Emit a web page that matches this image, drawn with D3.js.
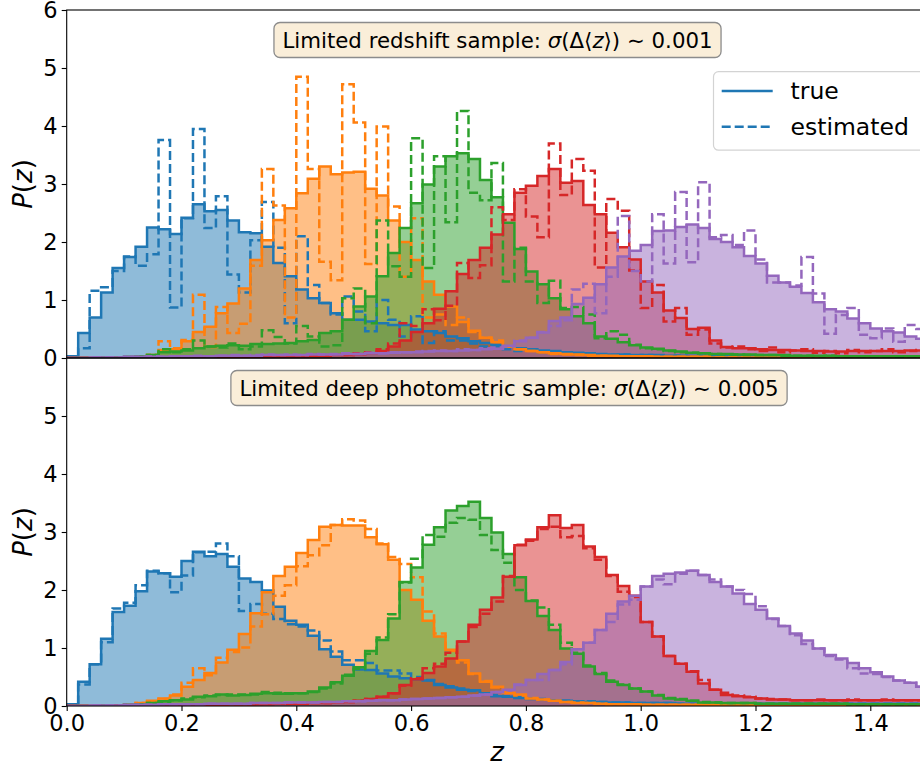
<!DOCTYPE html>
<html>
<head>
<meta charset="utf-8">
<script src="https://cdn.jsdelivr.net/npm/d3@7"></script>
<style>
  html, body { margin: 0; padding: 0; background: #fff; }
  svg { display: block; font-family: "DejaVu Sans", sans-serif; }
</style>
</head>
<body>
<svg id="chart" width="920" height="767"></svg>
<script>
// ---------------- data ----------------
const binWidth = 0.02;
const xTicks = [0.0, 0.2, 0.4, 0.6, 0.8, 1.0, 1.2, 1.4];
const xTickLabels = ["0.0", "0.2", "0.4", "0.6", "0.8", "1.0", "1.2", "1.4"];
const yTicksTop = [0, 1, 2, 3, 4, 5, 6];
const yTicksBottom = [0, 1, 2, 3, 4, 5];
const seriesColors = ["#1f77b4", "#ff7f0e", "#2ca02c", "#d62728", "#9467bd"];
const legendLabels = ["true", "estimated"];
const titleTop = ["Limited redshift sample: ", "σ", "(Δ⟨", "z", "⟩) ∼ 0.001"];
const titleBottom = ["Limited deep photometric sample: ", "σ", "(Δ⟨", "z", "⟩) ∼ 0.005"];

// top panel: true P(z)
const trueTopBlue = [0.03,0.43,0.70,1.13,1.55,1.74,1.92,2.25,2.22,2.14, 2.42,2.65,2.53,2.55,2.37,2.17,2.15,1.92,1.64,1.41, 1.18,1.03,0.95,0.77,0.66,0.66,0.63,0.60,0.57,0.57, 0.49,0.46,0.43,0.37,0.34,0.29,0.26,0.23,0.20,0.17, 0.15,0.13,0.12,0.10,0.09,0.08,0.07,0.06,0.06,0.05, 0.05,0.05,0.04,0.04,0.04,0.04,0.04,0.04,0.03,0.03, 0.03,0.03,0.03,0.03,0.03,0.03,0.03,0.03,0.03,0.03, 0.03,0.03,0.03,0.03,0.03];
const trueTopOrange = [0,0,0,0,0.01,0.01,0.02,0.05,0.14,0.15, 0.29,0.45,0.54,0.77,0.94,1.20,1.69,2.03,2.38,2.58, 2.84,3.09,3.30,3.17,3.20,3.21,2.92,2.80,2.37,2.00, 1.69,1.32,1.09,0.89,0.62,0.47,0.35,0.27,0.20,0.15, 0.12,0.10,0.08,0.07,0.06,0.05,0.04,0.04,0.03,0.03, 0.03,0.02,0.02,0.02,0.02,0.02,0.01,0.01,0.01,0.01, 0.01,0.01,0.01,0.01,0.01,0.01,0.01,0.01,0.01,0.01, 0.01,0.01,0.01,0.01,0.01];
const trueTopGreen = [0,0,0,0.01,0.01,0.02,0.03,0.05,0.10,0.11, 0.13,0.17,0.20,0.21,0.22,0.21,0.24,0.24,0.25,0.26, 0.29,0.31,0.43,0.46,0.66,0.89,1.06,1.41,1.81,2.24, 2.67,2.99,3.30,3.48,3.53,3.43,3.07,2.77,2.33,1.88, 1.49,1.27,1.03,0.84,0.72,0.60,0.37,0.33,0.27,0.22, 0.18,0.16,0.13,0.11,0.09,0.08,0.07,0.07,0.06,0.06, 0.05,0.05,0.05,0.04,0.04,0.04,0.04,0.03,0.03,0.03, 0.03,0.03,0.03,0.03,0.03];
const trueTopRed = [0,0,0,0,0,0.01,0.01,0.01,0.01,0.01, 0.01,0.02,0.02,0.02,0.02,0.02,0.02,0.03,0.03,0.03, 0.03,0.04,0.04,0.05,0.05,0.06,0.08,0.12,0.20,0.30, 0.45,0.60,0.85,1.15,1.45,1.69,1.90,2.13,2.48,2.85, 2.97,3.14,3.26,3.02,3.05,2.64,2.48,2.16,1.91,1.70, 1.32,1.13,0.82,0.69,0.50,0.52,0.30,0.19,0.17,0.17, 0.15,0.14,0.14,0.13,0.12,0.12,0.11,0.11,0.12,0.12, 0.12,0.12,0.12,0.13,0.13];
const trueTopPurple = [0,0,0.01,0.01,0.01,0.02,0.02,0.02,0.02,0.03, 0.03,0.03,0.03,0.04,0.04,0.04,0.04,0.05,0.05,0.05, 0.05,0.06,0.06,0.06,0.07,0.07,0.08,0.08,0.09,0.10, 0.10,0.11,0.12,0.12,0.13,0.14,0.15,0.16,0.21,0.29, 0.35,0.44,0.64,0.70,0.93,1.04,1.27,1.56,1.75,1.85, 1.95,2.19,2.20,2.26,2.30,2.24,2.05,2.00,1.91,1.76, 1.63,1.42,1.30,1.23,1.12,0.96,0.84,0.80,0.68,0.60, 0.51,0.46,0.44,0.37,0.33];

// top panel: estimated P(z)
const estTopBlue = [0,0.17,1.16,1.22,1.50,1.75,1.59,1.79,3.76,0.87, 2.41,3.95,2.24,2.79,1.44,1.13,2.03,2.69,1.90,0.60, 2.10,1.26,0.95,0.75,1.06,0.80,0.46,1.00,0.66,0.37, 0.72,0.26,0.46,0.30,0.30,0.25,0.20,0.20,0.15,0.12, 0.13,0.10,0.08,0.08,0.06,0.07,0.05,0.05,0.06,0.04, 0.05,0.04,0.03,0.04,0.03,0.04,0.03,0.02,0.03,0.03, 0.02,0.03,0.02,0.02,0.03,0.02,0.02,0.02,0.01,0.02, 0.02,0.02,0.01,0.02,0.02];
const estTopOrange = [0,0,0,0,0,0,0.02,0.05,0.29,0.17, 0.31,1.09,0.19,0.88,0.43,0.59,1.59,3.26,2.63,0.70, 4.85,3.26,1.66,1.34,4.72,4.06,1.62,3.99,2.61,1.40, 2.41,0.70,0.75,0.57,0.70,0.45,0.35,0.30,0.20,0.15, 0.12,0.10,0.07,0.06,0.05,0.04,0.04,0.03,0.03,0.03, 0.02,0.02,0.02,0.02,0.02,0.02,0.01,0.01,0.01,0.01, 0.01,0.01,0.01,0.01,0.01,0.01,0.01,0.01,0.01,0.01, 0.01,0.01,0.01,0.01,0.01];
const estTopGreen = [0,0,0,0,0,0,0.02,0.05,0.15,0.10, 0.15,0.30,0.20,0.18,0.25,0.15,0.20,0.48,0.36,0.25, 0.55,0.37,0.20,0.22,1.03,1.20,0.60,2.37,1.58,1.40, 3.79,1.55,3.48,2.34,4.26,2.85,2.72,3.36,1.32,1.90, 1.32,0.95,1.33,0.86,0.88,0.75,0.34,0.46,0.40,0.23, 0.17,0.15,0.12,0.10,0.09,0.08,0.07,0.06,0.06,0.05, 0.05,0.05,0.04,0.04,0.04,0.03,0.04,0.03,0.03,0.03, 0.03,0.03,0.02,0.03,0.03];
const estTopRed = [0,0,0,0,0,0.01,0.01,0.02,0.01,0.02, 0.01,0.02,0.03,0.02,0.03,0.02,0.03,0.04,0.02,0.04, 0.03,0.05,0.04,0.06,0.05,0.08,0.10,0.15,0.25,0.60, 0.55,0.84,0.65,0.90,1.64,1.38,1.60,2.60,2.38,2.91, 2.44,2.08,3.70,2.81,3.43,3.23,1.56,2.74,2.54,1.51, 0.86,1.26,0.63,0.86,0.40,0.49,0.25,0.18,0.20,0.15, 0.12,0.18,0.10,0.13,0.15,0.09,0.12,0.08,0.14,0.10, 0.12,0.15,0.10,0.12,0.14];
const estTopPurple = [0,0,0.01,0.01,0.01,0.02,0.02,0.03,0.02,0.03, 0.03,0.04,0.03,0.04,0.05,0.04,0.05,0.06,0.05,0.06, 0.05,0.07,0.06,0.07,0.08,0.07,0.09,0.08,0.10,0.10, 0.11,0.12,0.13,0.12,0.15,0.14,0.17,0.18,0.20,0.30, 0.35,0.45,0.55,0.65,1.18,1.28,0.77,1.40,2.45,1.50, 1.32,2.48,1.63,2.86,1.65,3.03,2.08,2.12,1.95,2.20, 1.70,1.30,1.30,1.25,1.74,1.11,0.42,0.74,0.86,0.40, 0.34,0.51,0.28,0.57,0.50];

// bottom panel: true P(z)
const trueBotBlue = [0.03,0.42,0.72,1.16,1.62,1.73,1.98,2.32,2.29,2.23, 2.50,2.66,2.58,2.62,2.40,2.20,2.14,1.99,1.71,1.47, 1.40,1.21,0.98,0.85,0.71,0.63,0.62,0.56,0.51,0.48, 0.46,0.44,0.36,0.32,0.28,0.27,0.22,0.17,0.16,0.14, 0.12,0.11,0.10,0.09,0.08,0.07,0.07,0.06,0.06,0.05, 0.05,0.05,0.05,0.04,0.04,0.04,0.04,0.04,0.04,0.04, 0.04,0.04,0.04,0.04,0.04,0.04,0.04,0.04,0.04,0.04, 0.04,0.04,0.04,0.04,0.04];
const trueBotOrange = [0,0,0,0,0.01,0.02,0.05,0.09,0.13,0.18, 0.33,0.45,0.57,0.75,0.97,1.24,1.60,1.96,2.24,2.40, 2.64,2.86,3.09,3.12,3.11,3.11,2.91,2.79,2.52,2.00, 1.83,1.47,1.20,0.97,0.79,0.56,0.42,0.33,0.22,0.20, 0.13,0.11,0.09,0.07,0.05,0.05,0.04,0.03,0.03,0.03, 0.02,0.02,0.02,0.02,0.02,0.02,0.02,0.01,0.01,0.01, 0.01,0.01,0.01,0.01,0.01,0.01,0.01,0.01,0.01,0.01, 0.01,0.01,0.01,0.01,0.01];
const trueBotGreen = [0,0,0,0.01,0.01,0.02,0.03,0.05,0.08,0.10, 0.11,0.16,0.17,0.20,0.18,0.19,0.21,0.22,0.21,0.22, 0.22,0.25,0.32,0.41,0.52,0.67,0.95,1.14,1.51,2.14, 2.39,2.78,3.08,3.37,3.45,3.52,3.24,2.99,2.62,2.22, 1.81,1.55,1.31,0.99,0.90,0.68,0.55,0.42,0.36,0.30, 0.25,0.18,0.13,0.11,0.09,0.06,0.06,0.05,0.05,0.05, 0.04,0.04,0.04,0.04,0.04,0.04,0.04,0.04,0.03,0.03, 0.03,0.03,0.03,0.03,0.03];
const trueBotRed = [0,0,0,0,0.01,0.01,0.01,0.01,0.01,0.02, 0.02,0.02,0.02,0.02,0.03,0.03,0.03,0.03,0.04,0.04, 0.04,0.05,0.05,0.06,0.07,0.09,0.12,0.16,0.22,0.36, 0.46,0.57,0.68,0.82,1.11,1.40,1.66,1.87,2.23,2.77, 2.87,3.08,3.29,3.07,3.12,2.75,2.57,2.26,2.07,1.90, 1.45,1.20,0.86,0.73,0.59,0.39,0.28,0.19,0.17,0.15, 0.13,0.11,0.11,0.10,0.10,0.10,0.10,0.10,0.10,0.10, 0.10,0.10,0.10,0.10,0.10];
const trueBotPurple = [0,0,0.01,0.01,0.01,0.02,0.02,0.02,0.03,0.03, 0.03,0.03,0.04,0.04,0.04,0.04,0.05,0.05,0.05,0.06, 0.06,0.06,0.07,0.07,0.08,0.08,0.09,0.10,0.10,0.11, 0.12,0.13,0.14,0.15,0.16,0.18,0.20,0.24,0.28,0.36, 0.45,0.55,0.62,0.76,0.98,1.09,1.31,1.59,1.80,1.90, 2.06,2.24,2.28,2.30,2.33,2.26,2.14,2.06,1.94,1.76, 1.66,1.51,1.38,1.25,1.13,0.99,0.88,0.82,0.74,0.65, 0.58,0.51,0.44,0.40,0.33];

// bottom panel: estimated P(z)
const estBotBlue = [0,0.37,0.72,1.10,1.68,1.78,2.08,2.33,2.29,1.96, 2.25,2.65,2.66,2.80,2.58,1.64,1.76,1.59,1.50,1.41, 1.37,1.30,1.13,0.94,0.79,0.79,0.74,0.61,0.61,0.56, 0.50,0.45,0.38,0.34,0.30,0.26,0.22,0.19,0.17,0.15, 0.13,0.12,0.10,0.09,0.08,0.08,0.07,0.06,0.06,0.05, 0.05,0.05,0.05,0.04,0.04,0.04,0.04,0.04,0.04,0.04, 0.04,0.04,0.04,0.04,0.04,0.04,0.04,0.04,0.04,0.04, 0.04,0.04,0.04,0.04,0.04];
const estBotOrange = [0,0,0,0,0.01,0.02,0.05,0.08,0.12,0.20, 0.40,0.65,0.53,0.83,0.93,1.01,1.37,1.58,1.90,2.08, 2.41,2.60,2.77,3.12,3.22,3.20,3.05,2.80,2.57,2.45, 2.22,1.63,1.25,0.95,0.75,0.55,0.43,0.32,0.24,0.18, 0.14,0.11,0.09,0.07,0.06,0.05,0.04,0.03,0.03,0.03, 0.02,0.02,0.02,0.02,0.02,0.02,0.02,0.01,0.01,0.01, 0.01,0.01,0.01,0.01,0.01,0.01,0.01,0.01,0.01,0.01, 0.01,0.01,0.01,0.01,0.01];
const estBotGreen = [0,0,0,0.01,0.01,0.02,0.03,0.05,0.06,0.10, 0.13,0.15,0.18,0.19,0.20,0.20,0.20,0.24,0.23,0.21, 0.22,0.24,0.30,0.39,0.54,0.64,0.90,1.18,1.58,2.13, 2.54,2.95,2.92,3.16,3.24,3.21,2.95,2.69,2.47,2.00, 1.82,1.70,1.40,1.09,0.92,0.70,0.57,0.44,0.37,0.30, 0.25,0.19,0.14,0.12,0.09,0.07,0.06,0.05,0.05,0.05, 0.04,0.04,0.04,0.04,0.04,0.04,0.04,0.04,0.03,0.03, 0.03,0.03,0.03,0.03,0.03];
const estBotRed = [0,0,0,0,0.01,0.01,0.01,0.01,0.02,0.02, 0.02,0.02,0.02,0.03,0.03,0.03,0.03,0.04,0.04,0.04, 0.04,0.05,0.05,0.06,0.07,0.09,0.12,0.16,0.22,0.35, 0.48,0.65,0.73,0.92,1.11,1.36,1.59,1.80,2.24,2.78, 2.85,3.05,3.09,2.91,2.93,2.72,2.52,2.24,1.97,1.88, 1.45,1.20,0.86,0.73,0.60,0.45,0.28,0.23,0.18,0.16, 0.13,0.12,0.11,0.10,0.10,0.11,0.10,0.10,0.11,0.10, 0.10,0.11,0.10,0.10,0.10];
const estBotPurple = [0,0,0.01,0.01,0.01,0.02,0.02,0.02,0.03,0.03, 0.03,0.03,0.04,0.04,0.04,0.04,0.05,0.05,0.05,0.06, 0.06,0.06,0.07,0.07,0.08,0.08,0.09,0.10,0.10,0.11, 0.12,0.13,0.14,0.15,0.16,0.18,0.20,0.24,0.27,0.37, 0.45,0.45,0.62,0.72,0.98,1.09,1.31,1.45,1.75,1.83, 2.06,2.18,2.10,2.28,2.33,2.26,2.18,2.06,2.00,1.93, 1.72,1.50,1.38,1.22,1.07,0.99,0.86,0.80,0.65,0.56, 0.55,0.50,0.44,0.40,0.33];

// ---------------- layout ----------------
const svg = d3.select("#chart");
const W = 920, H = 767;
const plotLeft = 66.7, plotRight = 927.7;
const x = d3.scaleLinear().domain([0, 1.5]).range([plotLeft, plotRight]);
const tickFont = 22.5;

const panels = [
  { top: 10, bottom: 358, ticks: yTicksTop, title: titleTop, titleX: 497.5, titleY: 40,
    trueS: [trueTopBlue, trueTopOrange, trueTopGreen, trueTopRed, trueTopPurple],
    estS: [estTopBlue, estTopOrange, estTopGreen, estTopRed, estTopPurple] },
  { top: 358, bottom: 706, ticks: yTicksBottom, title: titleBottom, titleX: 509, titleY: 388,
    trueS: [trueBotBlue, trueBotOrange, trueBotGreen, trueBotRed, trueBotPurple],
    estS: [estBotBlue, estBotOrange, estBotGreen, estBotRed, estBotPurple] }
];

function stepPoints(vals) {
  const pts = [[0, 0]];
  vals.forEach((v, i) => { pts.push([i * binWidth, v]); pts.push([(i + 1) * binWidth, v]); });
  pts.push([vals.length * binWidth, 0]);
  return pts;
}

svg.append("rect").attr("width", W).attr("height", H).attr("fill", "#fff");

panels.forEach((p, pi) => {
  const y = d3.scaleLinear().domain([0, 6]).range([p.bottom, p.top]);
  const g = svg.append("g");
  const clipId = "clip" + pi;
  svg.append("clipPath").attr("id", clipId).append("rect")
    .attr("x", plotLeft).attr("y", p.top).attr("width", plotRight - plotLeft).attr("height", p.bottom - p.top);
  const data = g.append("g").attr("clip-path", `url(#${clipId})`);
  const line = d3.line().x(d => x(d[0])).y(d => y(d[1]));
  const area = d3.area().x(d => x(d[0])).y0(y(0)).y1(d => y(d[1]));

  // filled true distributions
  p.trueS.forEach((s, i) => {
    data.append("path").attr("d", area(stepPoints(s)))
      .attr("fill", seriesColors[i]).attr("fill-opacity", 0.5).attr("stroke", "none");
  });
  // outlines: true (solid) and estimated (dashed)
  p.trueS.forEach((s, i) => {
    data.append("path").attr("d", line(stepPoints(s)))
      .attr("fill", "none").attr("stroke", seriesColors[i]).attr("stroke-width", 2.5);
    data.append("path").attr("d", line(stepPoints(p.estS[i])))
      .attr("fill", "none").attr("stroke", seriesColors[i]).attr("stroke-width", 2.5)
      .attr("stroke-dasharray", "9,4");
  });

  // y axis
  const yAxis = g.append("g").attr("transform", `translate(${plotLeft},0)`)
    .call(d3.axisLeft(y).tickValues(p.ticks).tickFormat(d3.format("d")).tickSize(5).tickPadding(4));
  yAxis.select(".domain").remove();
  yAxis.selectAll("text").attr("font-size", tickFont).attr("fill", "#000").attr("font-family", "DejaVu Sans");
  yAxis.selectAll("line").attr("stroke", "#000").attr("stroke-width", 1.1);

  // spines
  g.append("rect").attr("x", plotLeft).attr("y", p.top).attr("width", plotRight - plotLeft)
    .attr("height", p.bottom - p.top).attr("fill", "none").attr("stroke", "#000").attr("stroke-width", 1.1);

  // y label
  const yl = g.append("text")
    .attr("transform", `translate(23,${(p.top + p.bottom) / 2}) rotate(-90)`)
    .attr("text-anchor", "middle").attr("dominant-baseline", "central")
    .attr("font-size", 26).attr("fill", "#000");
  yl.append("tspan").attr("font-style", "italic").text("P");
  yl.append("tspan").text("(");
  yl.append("tspan").attr("font-style", "italic").text("z");
  yl.append("tspan").text(")");

  // title box
  const tg = g.append("g");
  const t = tg.append("text").attr("x", p.titleX).attr("y", p.titleY)
    .attr("text-anchor", "middle").attr("dominant-baseline", "central")
    .attr("font-size", 21.3).attr("fill", "#000");
  p.title.forEach((part, k) => {
    const ts = t.append("tspan").text(part);
    if (k === 1 || k === 3) ts.attr("font-style", "italic");
  });
  const bb = t.node().getBBox();
  tg.insert("rect", "text")
    .attr("x", bb.x - 8.5).attr("y", p.titleY - 17.5)
    .attr("width", bb.width + 17).attr("height", 35)
    .attr("rx", 6).attr("ry", 6)
    .attr("fill", "#faeed9").attr("stroke", "#8c8c8c").attr("stroke-width", 1.3);
});

// bottom x axis
const yBottom = 706;
const xAxis = svg.append("g").attr("transform", `translate(0,${yBottom})`)
  .call(d3.axisBottom(x).tickValues(xTicks).tickFormat((d, i) => xTickLabels[i]).tickSize(5).tickPadding(4));
xAxis.select(".domain").remove();
xAxis.selectAll("text").attr("font-size", tickFont).attr("fill", "#000").attr("font-family", "DejaVu Sans");
xAxis.selectAll("line").attr("stroke", "#000").attr("stroke-width", 1.1);

svg.append("text").attr("x", x(0.75)).attr("y", 752)
  .attr("text-anchor", "middle").attr("dominant-baseline", "central")
  .attr("font-size", 26).attr("font-style", "italic").attr("fill", "#000").text("z");

// legend
const lg = svg.append("g");
lg.append("rect").attr("x", 713.5).attr("y", 71.7).attr("width", 230).attr("height", 78.5)
  .attr("rx", 5).attr("fill", "#fff").attr("fill-opacity", 0.8).attr("stroke", "#d3d3d3").attr("stroke-width", 1.2);
const legendRows = [{ y: 91, dash: null }, { y: 126.7, dash: "9,4" }];
legendRows.forEach((r, i) => {
  const l = lg.append("line").attr("x1", 721.7).attr("x2", 772.7).attr("y1", r.y).attr("y2", r.y)
    .attr("stroke", seriesColors[0]).attr("stroke-width", 2.5);
  if (r.dash) l.attr("stroke-dasharray", r.dash);
  lg.append("text").attr("x", 790.5).attr("y", r.y).attr("dominant-baseline", "central")
    .attr("font-size", 23.5).attr("fill", "#000").text(legendLabels[i]);
});
</script>
</body>
</html>
